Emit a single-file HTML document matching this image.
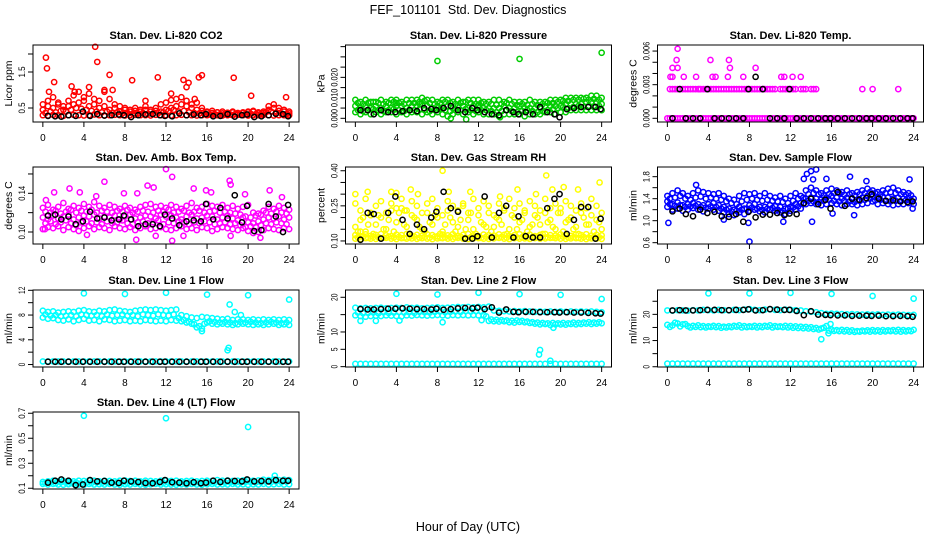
<!DOCTYPE html>
<html><head><meta charset="utf-8"><style>
html,body{margin:0;padding:0;background:#fff;}
svg{display:block;font-family:"Liberation Sans",sans-serif;}
</style></head><body>
<svg id="chart" width="936" height="540" viewBox="0 0 936 540">
<text x="468" y="14" text-anchor="middle" font-size="12.5" xml:space="preserve">FEF_101101  Std. Dev. Diagnostics</text>
<text x="468" y="531" text-anchor="middle" font-size="12.5">Hour of Day (UTC)</text>
</svg>
<script>
const bandHours=[0,0.5,1,1.5,2,2.5,3,3.5,4,4.5,5,5.5,6,6.5,7,7.5,8,8.5,9,9.5,10,10.5,11,11.5,12,12.5,13,13.5,14,14.5,15,15.5,16,16.5,17,17.5,18,18.5,19,19.5,20,20.5,21,21.5,22,22.5,23,23.5,24];
const bandHoursB=[0.25,0.75,1.25,1.75,2.25,2.75,3.25,3.75,4.25,4.75,5.25,5.75,6.25,6.75,7.25,7.75,8.25,8.75,9.25,9.75,10.25,10.75,11.25,11.75,12.25,12.75,13.25,13.75,14.25,14.75,15.25,15.75,16.25,16.75,17.25,17.75,18.25,18.75,19.25,19.75,20.25,20.75,21.25,21.75,22.25,22.75,23.25,23.75];
const blkHours=[0.5,1.2,1.8,2.5,3.2,3.9,4.6,5.3,6,6.7,7.4,7.9,8.6,9.3,10,10.7,11.4,11.9,12.6,13.3,14,14.7,15.4,15.9,16.6,17.3,18,18.7,19.4,19.9,20.6,21.3,22,22.7,23.4,23.9];
const xTicks=[0,4,8,12,16,20,24];

// CO2
const co2Low=[0.3,0.29,0.31,0.3,0.28,0.3,0.31,0.3,0.29,0.3,0.32,0.3,0.29,0.3,0.31,0.3,0.29,0.3,0.31,0.3,0.3,0.29,0.31,0.3,0.3,0.29,0.3,0.31,0.3,0.3,0.29,0.3,0.3,0.31,0.3,0.29,0.3,0.3,0.31,0.3,0.29,0.3,0.3,0.31,0.3,0.29,0.3,0.3,0.3];
const co2Mid=[0.45,0.55,0.5,0.6,0.45,0.55,0.6,0.65,0.7,0.55,0.6,0.5,0.55,0.45,0.5,0.4,0.45,0.4,0.42,0.4,0.45,0.4,0.42,0.4,0.45,0.5,0.55,0.6,0.55,0.5,0.45,0.42,0.38,0.36,0.38,0.35,0.36,0.38,0.35,0.36,0.38,0.4,0.35,0.36,0.45,0.5,0.42,0.4,0.35];
const co2High=[0.6,0.7,0.8,0.65,0.55,0.7,0.85,0.95,0.8,0.9,0.75,0.7,0.95,0.75,0.6,0.55,0.5,0.45,0.5,0.45,0.55,0.45,0.5,0.6,0.65,0.9,0.75,0.8,0.7,0.6,0.65,0.5,0.4,0.42,0.38,0.4,0.37,0.4,0.36,0.38,0.4,0.42,0.38,0.4,0.55,0.6,0.5,0.45,0.4];
const co2B1=[0.36,0.4,0.38,0.42,0.4,0.45,0.5,0.48,0.45,0.42,0.4,0.38,0.4,0.36,0.38,0.35,0.36,0.34,0.35,0.36,0.34,0.35,0.36,0.38,0.42,0.45,0.4,0.42,0.38,0.36,0.35,0.33,0.32,0.33,0.32,0.33,0.32,0.33,0.32,0.33,0.34,0.33,0.32,0.38,0.4,0.36,0.34,0.33];
const co2OutX=[0.3,0.4,0.6,1.1,5.1,5.3,6.5,8.7,11.2,13.7,14.0,14.2,15.2,15.5,18.6,20.3,23.7,4.5,2.8,3.1,10,12.5,6.0,6.8,14.8];
const co2OutY=[1.9,1.6,0.95,1.22,2.2,1.78,1.42,1.27,1.35,1.28,1.08,1.2,1.35,1.41,1.34,0.84,0.8,1.08,1.1,0.95,0.7,0.72,1.0,1.0,0.75];
const co2Blk=[0.28,0.27,0.26,0.3,0.28,0.4,0.28,0.33,0.29,0.3,0.32,0.3,0.25,0.3,0.32,0.33,0.3,0.28,0.27,0.35,0.3,0.32,0.3,0.33,0.27,0.28,0.33,0.26,0.3,0.32,0.25,0.27,0.3,0.34,0.33,0.27];

// Pressure
const prLow=[0.003,0.002,0.003,0.002,0.003,0.002,0.003,0.003,0.002,0.003,0.002,0.003,0.003,0.002,0.003,0.002,0.003,0.002,0.001,0.002,0.003,0.002,0.003,0.002,0.003,0.002,0.002,0.002,0.001,0.002,0.002,0.002,0.002,0.001,0.002,0.002,0.002,0.003,0.003,0.002,0.003,0.003,0.004,0.004,0.004,0.004,0.004,0.004,0.004];
const prMid=[0.006,0.005,0.006,0.005,0.006,0.005,0.006,0.005,0.006,0.006,0.005,0.006,0.006,0.007,0.006,0.005,0.006,0.005,0.006,0.005,0.006,0.006,0.005,0.006,0.006,0.005,0.005,0.005,0.005,0.006,0.005,0.005,0.006,0.005,0.005,0.005,0.005,0.006,0.006,0.006,0.006,0.007,0.007,0.007,0.007,0.008,0.008,0.008,0.007];
const prHigh=[0.009,0.008,0.009,0.008,0.008,0.009,0.008,0.009,0.009,0.008,0.009,0.009,0.009,0.01,0.009,0.009,0.008,0.009,0.009,0.008,0.009,0.008,0.009,0.009,0.009,0.008,0.008,0.009,0.009,0.008,0.009,0.008,0.008,0.008,0.009,0.008,0.008,0.008,0.009,0.009,0.009,0.01,0.01,0.01,0.01,0.01,0.011,0.011,0.01];
const prB1=[0.004,0.0035,0.004,0.0045,0.004,0.0035,0.004,0.0045,0.004,0.0035,0.004,0.004,0.0045,0.004,0.0035,0.004,0.0045,0.004,0.0035,0.004,0.004,0.0045,0.004,0.0035,0.004,0.004,0.0035,0.003,0.0035,0.004,0.0035,0.003,0.0035,0.004,0.0035,0.003,0.0035,0.004,0.0045,0.005,0.0055,0.005,0.0055,0.006,0.0055,0.006,0.0055,0.006];
const prB2=[0.0075,0.007,0.0075,0.008,0.0075,0.007,0.0075,0.008,0.0075,0.007,0.0075,0.0075,0.008,0.0085,0.0075,0.007,0.0075,0.008,0.0075,0.007,0.0075,0.008,0.0075,0.007,0.0075,0.007,0.007,0.0065,0.007,0.0075,0.007,0.0065,0.007,0.0065,0.007,0.0065,0.007,0.0075,0.0075,0.008,0.0085,0.0085,0.009,0.009,0.0095,0.009,0.0095,0.009];
const prOutX=[8,16,24,4,6.3,10.8,9.3,12,14.1];
const prOutY=[0.028,0.029,0.032,0.0075,0.007,-0.0005,0.0,0.0065,0.0005];
const prBlk=[0.004,0.004,0.002,0.004,0.003,0.003,0.0035,0.004,0.0035,0.005,0.0045,0.004,0.005,0.006,0.004,0.003,0.005,0.004,0.003,0.002,0.0015,0.004,0.003,0.002,0.003,0.002,0.0055,0.003,0.002,0.0005,0.0045,0.005,0.0055,0.0055,0.0055,0.0045];

// Li-820 temp
const tpZero=[0,0,0,0,0,0,0,0,0,0,0,0,0,0,0,0,0,0,0,0,0,0,0,0,0,0,0,0,0,0,0,0,0,0,0,0,0,0,0,0,0,0,0,0,0,0,0,0,0];
const tpLevel=[null,0.0026,0.0026,0.0026,0.0026,0.0026,0.0026,0.0026,0.0026,0.0026,0.0026,0.0026,0.0026,0.0026,0.0026,0.0026,0.0026,0.0026,0.0026,0.0026,0.0026,0.0026,0.0026,0.0026,0.0026,0.0026,0.0026,0.0026,0.0026,0.0026,null,null,null,null,null,null,null,null,null,null,null,null,null,null,null,null,null,null,null];
const tpZeroB=[0,0,0,0,0,0,0,0,0,0,0,0,0,0,0,0,0,0,0,0,0,0,0,0,0,0,0,0,0,0,0,0,0,0,0,0,0,0,0,0,0,0,0,0,0,0,0,0];
const tpLevelB=[0.0026,0.0026,0.0026,0.0026,0.0026,0.0026,0.0026,0.0026,0.0026,0.0026,0.0026,0.0026,0.0026,0.0026,0.0026,0.0026,0.0026,0.0026,0.0026,0.0026,0.0026,null,0.0026,0.0026,0.0026,null,0.0026,null,0.0026,null,null,null,null,null,null,null,null,null,null,null,null,null,null,null,null,null,null,null];
const tpOutX=[1,0.9,1.0,0.5,0.3,0.5,1.6,2.8,4.2,4.4,4.7,6,6.1,5.9,7.4,8.6,11.1,11.4,12.2,13,19,20,22.5,3.1,9.4];
const tpOutY=[0.0062,0.0052,0.0045,0.0045,0.0037,0.0037,0.0037,0.0037,0.0052,0.0037,0.0037,0.0052,0.0045,0.0037,0.0037,0.0045,0.0037,0.0037,0.0037,0.0037,0.0026,0.0026,0.0026,0.0026,0.0026];
const tpBlk=[0,0.0026,0,0,0,0.0026,0,0,0,0,0,0.0026,0.0037,0.0026,0,0,0,0.0026,0,0,0,0,0,0,0,0,0,0,0,0,0,0,0,0,0,0];

// Box temp
const btLow=[0.103,0.105,0.104,0.106,0.102,0.105,0.103,0.101,0.104,0.106,0.103,0.105,0.104,0.102,0.106,0.104,0.103,0.105,0.102,0.104,0.106,0.103,0.104,0.105,0.103,0.102,0.104,0.106,0.103,0.104,0.102,0.105,0.104,0.101,0.103,0.105,0.104,0.103,0.102,0.104,0.101,0.099,0.1,0.102,0.104,0.103,0.102,0.104,0.103];
const btMid=[0.115,0.113,0.117,0.114,0.116,0.118,0.113,0.115,0.117,0.116,0.118,0.114,0.116,0.115,0.117,0.113,0.116,0.118,0.114,0.115,0.117,0.116,0.114,0.118,0.116,0.117,0.115,0.113,0.116,0.118,0.114,0.115,0.117,0.116,0.113,0.115,0.117,0.114,0.112,0.115,0.11,0.109,0.111,0.113,0.115,0.114,0.116,0.113,0.115];
const btHigh=[0.125,0.128,0.123,0.126,0.13,0.124,0.127,0.125,0.129,0.126,0.131,0.127,0.125,0.128,0.126,0.124,0.127,0.125,0.123,0.126,0.128,0.129,0.126,0.127,0.125,0.128,0.126,0.124,0.127,0.13,0.125,0.126,0.129,0.127,0.126,0.128,0.125,0.127,0.124,0.126,0.128,0.12,0.119,0.122,0.126,0.124,0.127,0.125,0.123];
const btB1=[0.109,0.111,0.108,0.11,0.112,0.109,0.107,0.11,0.111,0.109,0.11,0.108,0.111,0.109,0.11,0.112,0.109,0.108,0.11,0.111,0.109,0.11,0.112,0.108,0.11,0.109,0.111,0.11,0.108,0.11,0.109,0.111,0.11,0.108,0.109,0.11,0.108,0.109,0.107,0.105,0.106,0.105,0.107,0.109,0.108,0.11,0.109,0.108];
const btB2=[0.121,0.12,0.122,0.119,0.121,0.123,0.12,0.122,0.121,0.123,0.12,0.122,0.121,0.12,0.122,0.121,0.123,0.12,0.121,0.122,0.121,0.12,0.122,0.121,0.123,0.12,0.121,0.122,0.12,0.121,0.122,0.12,0.121,0.122,0.12,0.121,0.12,0.119,0.118,0.116,0.115,0.117,0.118,0.12,0.119,0.121,0.12,0.119];
const btOutX=[0.3,1.1,2.6,3.6,6,7.9,9.2,10.2,10.8,12,12.6,14.7,15.9,18.2,18.3,22.1,9.1,12.6,11,4.3,13.7,18.3,21.2,0.2,5.2,16.4,19.7,23.3];
const btOutY=[0.133,0.141,0.145,0.141,0.152,0.14,0.14,0.148,0.146,0.165,0.157,0.145,0.143,0.153,0.149,0.143,0.092,0.091,0.096,0.097,0.096,0.096,0.094,0.103,0.137,0.141,0.139,0.136];
const btBlk=[0.117,0.118,0.113,0.116,0.108,0.111,0.121,0.114,0.115,0.112,0.113,0.117,0.113,0.106,0.108,0.108,0.106,0.118,0.114,0.107,0.111,0.112,0.111,0.129,0.113,0.125,0.114,0.138,0.11,0.127,0.101,0.102,0.129,0.116,0.1,0.128];

// RH
const rhLow=[0.11,0.108,0.112,0.11,0.109,0.111,0.113,0.11,0.108,0.112,0.11,0.111,0.109,0.112,0.11,0.108,0.111,0.112,0.11,0.109,0.113,0.11,0.108,0.111,0.112,0.11,0.109,0.111,0.113,0.11,0.108,0.112,0.11,0.111,0.109,0.112,0.11,0.111,0.113,0.112,0.11,0.109,0.111,0.112,0.11,0.108,0.111,0.11,0.109];
const rhMid=[0.125,0.12,0.128,0.122,0.126,0.13,0.124,0.121,0.127,0.125,0.13,0.123,0.126,0.122,0.128,0.125,0.12,0.127,0.124,0.129,0.122,0.126,0.13,0.124,0.121,0.127,0.125,0.123,0.128,0.126,0.122,0.125,0.129,0.124,0.127,0.121,0.126,0.13,0.125,0.123,0.128,0.124,0.122,0.127,0.125,0.129,0.123,0.126,0.124];
const rhScat1=[0.16,0.19,0.14,0.22,0.17,0.2,0.15,0.23,0.18,0.24,0.16,0.21,0.19,0.15,0.22,0.17,0.2,0.14,0.23,0.18,0.16,0.25,0.19,0.15,0.21,0.17,0.22,0.16,0.19,0.24,0.15,0.2,0.18,0.23,0.16,0.21,0.17,0.22,0.19,0.15,0.24,0.18,0.2,0.16,0.22,0.17,0.21,0.19,0.15];
const rhScat2=[0.26,0.23,0.28,0.21,0.25,0.27,0.22,0.26,0.24,0.28,0.23,0.27,0.25,0.22,0.26,0.28,0.24,0.21,0.27,0.25,0.23,0.26,0.22,0.28,0.24,0.27,0.25,0.21,0.26,0.23,0.28,0.24,0.26,0.22,0.27,0.25,0.23,0.28,0.24,0.26,0.22,0.27,0.25,0.23,0.26,0.24,0.28,0.25,0.22];
const rhB1=[0.115,0.118,0.113,0.117,0.116,0.114,0.118,0.115,0.117,0.113,0.116,0.118,0.114,0.117,0.115,0.118,0.113,0.116,0.117,0.115,0.118,0.114,0.116,0.117,0.113,0.118,0.115,0.116,0.117,0.114,0.118,0.115,0.116,0.113,0.117,0.118,0.115,0.116,0.114,0.117,0.118,0.115,0.116,0.113,0.117,0.115,0.118,0.116];
const rhB2=[0.14,0.2,0.17,0.13,0.21,0.15,0.19,0.14,0.22,0.17,0.13,0.2,0.16,0.14,0.18,0.21,0.13,0.17,0.2,0.14,0.19,0.15,0.22,0.13,0.18,0.16,0.14,0.2,0.17,0.13,0.21,0.15,0.19,0.14,0.17,0.2,0.13,0.18,0.16,0.22,0.14,0.19,0.15,0.13,0.2,0.17,0.14,0.18];
const rhOutX=[0,0.5,1.2,3.5,4,5.4,8.5,9.1,11.2,15.8,18.6,19.2,20.3,21.7,23.8,4.8,14.1,6.1,17.6];
const rhOutY=[0.3,0.14,0.31,0.31,0.305,0.32,0.4,0.31,0.31,0.32,0.38,0.32,0.33,0.32,0.35,0.23,0.29,0.3,0.3];
const rhBlk=[0.105,0.22,0.215,0.11,0.22,0.29,0.19,0.13,0.17,0.15,0.2,0.225,0.31,0.24,0.225,0.11,0.11,0.12,0.29,0.115,0.22,0.25,0.115,0.205,0.12,0.115,0.115,0.24,0.28,0.3,0.13,0.19,0.245,0.245,0.11,0.195];

// Sample flow
const sfLow=[1.25,1.2,1.22,1.18,1.2,1.23,1.2,1.17,1.22,1.2,1.18,1.15,1.12,1.1,1.15,1.12,1.18,1.2,1.17,1.15,1.2,1.18,1.15,1.12,1.18,1.2,1.22,1.3,1.32,1.3,1.28,1.3,1.32,1.3,1.28,1.3,1.3,1.28,1.3,1.32,1.35,1.3,1.32,1.3,1.28,1.3,1.3,1.32,1.3];
const sfMid=[1.35,1.3,1.33,1.28,1.3,1.32,1.3,1.28,1.3,1.32,1.28,1.25,1.22,1.2,1.25,1.22,1.28,1.3,1.25,1.25,1.28,1.26,1.25,1.22,1.25,1.3,1.32,1.4,1.42,1.4,1.38,1.42,1.45,1.42,1.4,1.42,1.4,1.38,1.42,1.45,1.45,1.42,1.44,1.42,1.4,1.42,1.4,1.42,1.4];
const sfHigh=[1.45,1.5,1.55,1.5,1.45,1.5,1.55,1.52,1.5,1.48,1.5,1.45,1.4,1.38,1.45,1.5,1.48,1.5,1.45,1.5,1.45,1.42,1.45,1.4,1.45,1.5,1.45,1.55,1.6,1.55,1.5,1.55,1.58,1.55,1.52,1.55,1.5,1.52,1.55,1.58,1.55,1.52,1.55,1.58,1.6,1.55,1.52,1.5];
const sfB1=[1.3,1.27,1.28,1.25,1.26,1.27,1.25,1.24,1.26,1.25,1.22,1.2,1.17,1.18,1.2,1.22,1.24,1.22,1.2,1.22,1.23,1.2,1.18,1.22,1.24,1.26,1.3,1.36,1.35,1.34,1.36,1.38,1.36,1.35,1.36,1.35,1.34,1.36,1.38,1.4,1.37,1.38,1.36,1.35,1.36,1.35,1.37,1.36];
const sfB2=[1.4,1.42,1.45,1.4,1.38,1.42,1.44,1.4,1.42,1.4,1.38,1.35,1.32,1.3,1.35,1.38,1.4,1.38,1.36,1.38,1.36,1.35,1.34,1.32,1.36,1.4,1.42,1.48,1.5,1.48,1.46,1.48,1.5,1.5,1.47,1.48,1.46,1.48,1.5,1.52,1.5,1.48,1.5,1.52,1.5,1.48,1.47,1.46];
const sfOutX=[0.1,2.8,8,7.9,13.3,13.6,14,14.5,14.2,14.1,17.8,18.2,15.5,16.1,23.6,5.5,11.3,19.4,23.9];
const sfOutY=[0.96,1.65,0.62,0.96,1.76,1.85,1.9,1.93,1.75,0.98,1.8,1.1,1.76,1.13,1.75,1.02,0.98,1.72,1.22];
const sfBlk=[1.17,1.22,1.12,1.08,1.2,1.14,1.16,1.08,1.07,1.12,0.98,1.16,1.06,1.11,1.11,1.14,1.1,1.13,1.12,1.32,1.4,1.3,1.38,1.22,1.52,1.27,1.4,1.38,1.41,1.48,1.4,1.36,1.37,1.35,1.34,1.35];

// Line 1
const l1Low=[0.5,0.5,0.5,0.5,0.5,0.5,0.5,0.5,0.5,0.5,0.5,0.5,0.5,0.5,0.5,0.5,0.5,0.5,0.5,0.5,0.5,0.5,0.5,0.5,0.5,0.5,0.5,0.5,0.5,0.5,0.5,0.5,0.5,0.5,0.5,0.5,0.5,0.5,0.5,0.5,0.5,0.5,0.5,0.5,0.5,0.5,0.5,0.5,0.5];
const l1Up=[8.7,8.5,8.6,8.4,8.5,8.6,8.5,8.7,8.8,8.6,8.5,8.7,8.6,8.8,8.9,8.7,8.6,8.5,8.7,8.8,8.9,8.8,8.9,8.8,8.7,8.8,8.9,8.0,7.8,7.6,7.5,7.7,7.6,7.5,7.4,7.3,7.4,7.2,7.3,7.3,7.2,7.3,7.2,7.3,7.2,7.3,7.2,7.3,7.2];
const l1Mid=[7.6,7.4,7.5,7.2,7.1,7.3,7.0,7.2,7.4,7.1,7.2,7.0,7.3,7.2,7.0,7.1,7.2,7.0,7.1,7.0,7.2,7.1,7.0,7.1,7.0,7.2,7.1,7.0,6.8,6.6,6.0,5.8,6.8,6.6,6.5,6.6,6.5,6.4,6.5,6.6,6.5,6.4,6.5,6.4,6.5,6.6,6.4,6.5,6.4];
const l1B=[8.1,7.9,8.0,7.8,7.9,8.0,7.8,8.1,8.0,7.9,8.0,7.8,8.1,7.9,8.0,8.1,7.9,8.0,7.8,8.1,8.0,7.9,8.1,8.0,7.9,8.1,7.5,7.2,6.9,6.5,6.2,6.6,7.0,6.9,6.8,6.9,6.8,6.7,6.9,6.8,6.9,6.8,6.7,6.8,6.9,6.8,6.7,6.8];
const l1OutX=[4,8,12,16,20,24,18,18.1,18.2,15.5,18.7,19.3];
const l1OutY=[11.5,11.4,11.6,11.3,11.2,10.5,2.3,2.7,9.7,5.4,8.5,8.0];
const l1Blk=[0.45,0.45,0.45,0.45,0.45,0.45,0.45,0.45,0.45,0.45,0.45,0.45,0.45,0.45,0.45,0.45,0.45,0.45,0.45,0.45,0.45,0.45,0.45,0.45,0.45,0.45,0.45,0.45,0.45,0.45,0.45,0.45,0.45,0.45,0.45,0.45];

// Line 2
const l2Low=[0.8,0.8,0.8,0.8,0.8,0.8,0.8,0.8,0.8,0.8,0.8,0.8,0.8,0.8,0.8,0.8,0.8,0.8,0.8,0.8,0.8,0.8,0.8,0.8,0.8,0.8,0.8,0.8,0.8,0.8,0.8,0.8,0.8,0.8,0.8,0.8,0.8,0.8,0.8,0.8,0.8,0.8,0.8,0.8,0.8,0.8,0.8,0.8,0.8];
const l2Up=[17,16.8,16.9,16.8,16.9,17,16.8,16.9,17,16.9,17.1,16.9,17,16.8,16.9,17,17.1,16.9,17,17.1,17.2,17.1,17.2,17.1,17.2,17.1,17.3,16.2,16.1,16,15.9,16,15.9,16,15.9,15.8,15.9,15.8,15.9,15.8,15.9,15.8,15.9,15.8,15.9,15.8,15.9,15.8,15.7];
const l2Mid=[14.8,14.6,14.4,14.6,14.7,14.6,14.8,14.7,14.6,14.5,14.8,14.7,14.9,14.8,14.7,14.8,14.9,14.8,14.7,14.9,14.8,14.9,14.8,14.9,14.8,14.9,13.2,13.1,13,13.1,12.8,12.7,12.9,12.8,12.6,12.4,12.2,12.3,12,12.2,12.2,12.1,12.3,12.2,12.3,12.4,12.3,12.4,12.5];
const l2B=[15.6,15.4,15.5,15.6,15.4,15.7,15.5,15.6,15.8,15.6,15.7,15.5,15.8,15.7,15.6,15.8,15.9,15.7,15.8,15.9,15.8,16.0,15.9,16.0,15.9,14.5,13.6,13.5,13.4,13.3,13.2,13.3,13.2,13.0,12.8,12.7,12.6,12.5,12.6,12.5,12.6,12.5,12.7,12.6,12.7,12.8,12.7,12.8];
const l2OutX=[4,8,12,16,20,24,17.9,18,19,0.5,2,4.3,8.5,12.3,19.3];
const l2OutY=[21,20.8,21.3,20.9,20.7,19.5,3.5,4.8,1.7,13.2,13.2,13.3,12.8,13.4,11.2];
const l2Blk=[16.6,16.5,16.5,16.6,16.7,16.7,16.8,16.7,16.6,16.6,16.5,16.7,16.4,16.6,16.8,16.9,16.8,17.0,16.6,17.1,15.6,16.5,15.8,15.7,15.8,15.8,15.7,15.7,15.7,15.6,15.7,15.6,15.6,15.5,15.4,15.3];

// Line 3
const l3Low=[1.2,1.2,1.2,1.2,1.2,1.2,1.2,1.2,1.2,1.2,1.2,1.2,1.2,1.2,1.2,1.2,1.2,1.2,1.2,1.2,1.2,1.2,1.2,1.2,1.2,1.2,1.2,1.2,1.2,1.2,1.2,1.2,1.2,1.2,1.2,1.2,1.2,1.2,1.2,1.2,1.2,1.2,1.2,1.2,1.2,1.2,1.2,1.2,1.2];
const l3Up=[21.5,21.4,21.6,21.5,21.4,21.6,21.5,21.7,21.6,21.5,21.7,21.6,21.5,21.7,21.6,21.8,22,21.7,21.6,21.8,21.9,21.7,21.6,21.8,21.7,21.6,21.5,21.2,21,20.8,20.5,20.2,20.3,20.2,20.1,20,20.1,20,19.9,20,19.9,20,19.8,19.9,19.8,19.9,19.8,19.7,19.8];
const l3Mid=[16,15.8,16.5,16.2,15.5,15.6,15.8,15.5,15.4,15.6,15.5,15.3,15.4,15.6,15.8,15.5,15.4,15.6,15.5,15.6,15.8,15.5,15.4,15.6,15.5,15.4,15.3,15.2,15.1,14.8,14.6,15.5,14.2,14.0,14.1,14.0,13.9,13.6,13.8,13.9,14.0,13.9,14.0,13.9,14.0,14.1,14.0,13.9,14.1];
const l3B=[15.2,16.8,15.4,16.3,15.0,15.2,15.1,15.0,15.2,15.1,14.9,15.0,15.1,15.3,15.0,15.1,15.2,15.0,15.1,15.3,15.0,15.2,15.1,15.0,14.9,14.8,14.7,14.6,14.4,14.2,14.9,13.8,13.7,13.6,13.5,13.4,13.3,13.4,13.5,13.4,13.5,13.4,13.5,13.6,13.5,13.4,13.5,13.6];
const l3OutX=[4,8,12,16,20,24,15,15.7,15.9];
const l3OutY=[28,28,28.2,27.8,27,26,10.5,12.8,16.3];
const l3Blk=[21.5,21.6,21.5,21.5,21.6,21.7,21.7,21.6,21.6,21.7,21.7,21.9,21.5,21.6,22.0,21.8,21.7,21.7,21.3,19.7,21.2,19.9,19.8,19.7,19.6,19.6,19.4,19.5,19.5,19.4,19.5,19.3,19.3,19.4,19.3,19.1];

// Line 4
const l4Low=[0.135,0.13,0.135,0.13,0.128,0.132,0.135,0.13,0.128,0.135,0.13,0.132,0.13,0.135,0.13,0.128,0.132,0.13,0.135,0.13,0.128,0.132,0.135,0.13,0.132,0.13,0.128,0.132,0.13,0.135,0.13,0.128,0.132,0.135,0.13,0.132,0.13,0.135,0.13,0.132,0.128,0.132,0.13,0.135,0.13,0.132,0.135,0.13,0.132];
const l4Up=[0.15,0.155,0.16,0.155,0.16,0.15,0.155,0.16,0.158,0.162,0.16,0.155,0.16,0.158,0.155,0.16,0.162,0.158,0.16,0.155,0.16,0.158,0.155,0.16,0.162,0.158,0.16,0.155,0.158,0.16,0.155,0.158,0.16,0.158,0.165,0.16,0.162,0.158,0.16,0.162,0.165,0.16,0.162,0.168,0.165,0.17,0.165,0.168,0.165];
const l4B=[0.142,0.145,0.14,0.148,0.144,0.142,0.146,0.14,0.145,0.143,0.147,0.142,0.145,0.14,0.146,0.144,0.142,0.147,0.143,0.145,0.14,0.146,0.144,0.142,0.145,0.143,0.14,0.146,0.144,0.142,0.145,0.143,0.146,0.144,0.148,0.145,0.147,0.144,0.146,0.15,0.148,0.146,0.149,0.152,0.15,0.153,0.15,0.152];
const l4OutX=[4,12,20,22.6];
const l4OutY=[0.68,0.66,0.59,0.2];
const l4Blk=[0.145,0.16,0.17,0.16,0.125,0.13,0.165,0.155,0.158,0.145,0.142,0.16,0.155,0.15,0.142,0.14,0.15,0.165,0.148,0.145,0.14,0.148,0.14,0.145,0.16,0.15,0.16,0.158,0.155,0.17,0.155,0.158,0.155,0.165,0.16,0.16];

const PW=266, PH=77;
const panels=[
 {name:"co2",title:"Stan. Dev. Li-820 CO2",ylab:"Licor ppm",L:33,T:45,ymin:0.111,ymax:2.25,ticks:[0.5,1,1.5,2],labels:["0.5","","1.5",""],col:"#ff0000",bands:[co2Low,co2Mid,co2High],bandsB:[co2B1],ox:co2OutX,oy:co2OutY,blk:co2Blk},
 {name:"pressure",title:"Stan. Dev. Li-820 Pressure",ylab:"kPa",L:345.5,T:45,ymin:-0.0018,ymax:0.0358,ticks:[0,0.005,0.01,0.015,0.02,0.025,0.03,0.035],labels:["0.000","","0.010","","0.020","","",""],col:"#00cc00",bands:[prLow,prMid,prHigh],bandsB:[prB1,prB2],ox:prOutX,oy:prOutY,blk:prBlk},
 {name:"li820-temp",title:"Stan. Dev. Li-820 Temp.",ylab:"degrees C",L:657.5,T:45,ymin:-0.00033,ymax:0.00654,ticks:[0,0.001,0.002,0.003,0.004,0.005,0.006],labels:["0.000","","","0.003","","","0.006"],col:"#ff00ff",bands:[tpZero,tpLevel],bandsB:[tpZeroB,tpLevelB],ox:tpOutX,oy:tpOutY,blk:tpBlk},
 {name:"box-temp",title:"Stan. Dev. Amb. Box Temp.",ylab:"degrees C",L:33,T:167,ymin:0.0876,ymax:0.1672,ticks:[0.1,0.12,0.14,0.16],labels:["0.10","","0.14",""],col:"#ff00ff",bands:[btLow,btMid,btHigh],bandsB:[btB1,btB2],ox:btOutX,oy:btOutY,blk:btBlk},
 {name:"gas-rh",title:"Stan. Dev. Gas Stream RH",ylab:"percent",L:345.5,T:167,ymin:0.087,ymax:0.416,ticks:[0.1,0.15,0.2,0.25,0.3,0.35,0.4],labels:["0.10","","","0.25","","","0.40"],col:"#ffff00",bands:[rhLow,rhMid,rhScat1,rhScat2],bandsB:[rhB1,rhB2],ox:rhOutX,oy:rhOutY,blk:rhBlk},
 {name:"sample-flow",title:"Stan. Dev. Sample Flow",ylab:"ml/min",L:657.5,T:167,ymin:0.576,ymax:1.976,ticks:[0.6,0.8,1.0,1.2,1.4,1.6,1.8],labels:["0.6","","1.0","","1.4","","1.8"],col:"#0000ff",bands:[sfLow,sfMid,sfHigh],bandsB:[sfB1,sfB2],ox:sfOutX,oy:sfOutY,blk:sfBlk},
 {name:"line1-flow",title:"Stan. Dev. Line 1 Flow",ylab:"ml/min",L:33,T:290,ymin:-0.4,ymax:12.05,ticks:[0,2,4,6,8,10,12],labels:["0","","4","","8","","12"],col:"#00ffff",bands:[l1Low,l1Up,l1Mid],bandsB:[l1B],ox:l1OutX,oy:l1OutY,blk:l1Blk},
 {name:"line2-flow",title:"Stan. Dev. Line 2 Flow",ylab:"ml/min",L:345.5,T:290,ymin:-0.1,ymax:22.1,ticks:[0,5,10,15,20],labels:["0","5","10","","20"],col:"#00ffff",bands:[l2Low,l2Up,l2Mid],bandsB:[l2B],ox:l2OutX,oy:l2OutY,blk:l2Blk},
 {name:"line3-flow",title:"Stan. Dev. Line 3 Flow",ylab:"ml/min",L:657.5,T:290,ymin:-0.1,ymax:29.3,ticks:[0,5,10,15,20,25],labels:["0","","10","","20",""],col:"#00ffff",bands:[l3Low,l3Up,l3Mid],bandsB:[l3B],ox:l3OutX,oy:l3OutY,blk:l3Blk},
 {name:"line4-flow",title:"Stan. Dev. Line 4 (LT) Flow",ylab:"ml/min",L:33,T:412,ymin:0.094,ymax:0.71,ticks:[0.1,0.2,0.3,0.4,0.5,0.6,0.7],labels:["0.1","","0.3","","0.5","","0.7"],col:"#00ffff",bands:[l4Low,l4Up],bandsB:[l4B],ox:l4OutX,oy:l4OutY,blk:l4Blk}
];

const NS="http://www.w3.org/2000/svg";
const svg=document.getElementById('chart');
function mk(tag,attrs,parent){const e=document.createElementNS(NS,tag);for(const k in attrs)e.setAttribute(k,attrs[k]);parent.appendChild(e);return e;}

panels.forEach(p=>{
  const g=mk('g',{},svg);
  
  
  const sx=h=>p.L+(h+0.96)/25.92*PW;
  const sy=v=>p.T+PH*(p.ymax-v)/(p.ymax-p.ymin);
  const B=p.T+PH;
  const t=mk('text',{x:p.L+PW/2,y:p.T-6,'text-anchor':'middle','font-size':'11','font-weight':'bold'},g);
  t.textContent=p.title;
  
  
  const yl=mk('text',{x:0,y:0,'text-anchor':'middle','font-size':'10.5',transform:`translate(${p.L-21},${p.T+PH/2}) rotate(-90)`},g);
  yl.textContent=p.ylab;
  
  
  const xa=mk('g',{},g);
  
  
  mk('line',{x1:sx(0),x2:sx(24),y1:B,y2:B,stroke:'#000'},xa);
  xTicks.forEach(h=>{
    mk('line',{x1:sx(h),x2:sx(h),y1:B,y2:B+5,stroke:'#000'},xa);
    const tl=mk('text',{x:sx(h),y:B+19,'text-anchor':'middle','font-size':'10'},xa);
    tl.textContent=String(h);
    
    
  });
  const ya=mk('g',{},g);
  
  
  mk('line',{x1:p.L,x2:p.L,y1:sy(p.ticks[0]),y2:sy(p.ticks[p.ticks.length-1]),stroke:'#000'},ya);
  p.ticks.forEach((v,i)=>{
    const y=sy(v);
    mk('line',{x1:p.L-5,x2:p.L,y1:y,y2:y,stroke:'#000'},ya);
    if(p.labels[i]){
      const lab=p.labels[i];
      const tl=mk('text',{x:0,y:0,'text-anchor':'middle','font-size':'9.5',textLength:(lab.length*3.7).toFixed(1),lengthAdjust:'spacingAndGlyphs',transform:`translate(${p.L-8},${y}) rotate(-90)`},ya);
      tl.textContent=lab;
      
      
    }
  });
  const pts=mk('g',{fill:'none','stroke-width':'1.5'},g);
  
  
  p.bands.forEach(arr=>{
    arr.forEach((v,i)=>{
      if(v===null)return;
      const c=mk('circle',{cx:sx(bandHours[i]),cy:sy(v),r:2.6,stroke:p.col},pts);
      
      
    });
  });
  p.bandsB.forEach(arr=>{
    arr.forEach((v,i)=>{
      if(v===null)return;
      const c=mk('circle',{cx:sx(bandHoursB[i]),cy:sy(v),r:2.6,stroke:p.col},pts);
      
      
    });
  });
  p.ox.forEach((h,i)=>{
    const c=mk('circle',{cx:sx(h),cy:sy(p.oy[i]),r:2.6,stroke:p.col},pts);
    
    
  });
  p.blk.forEach((v,i)=>{
    const c=mk('circle',{cx:sx(blkHours[i]),cy:sy(v),r:2.6,stroke:'#000'},pts);
    
    
  });
  const box=mk('rect',{x:p.L,y:p.T,width:PW,height:PH,fill:'none',stroke:'#000'},g);
  
  
});
</script>
</body></html>
